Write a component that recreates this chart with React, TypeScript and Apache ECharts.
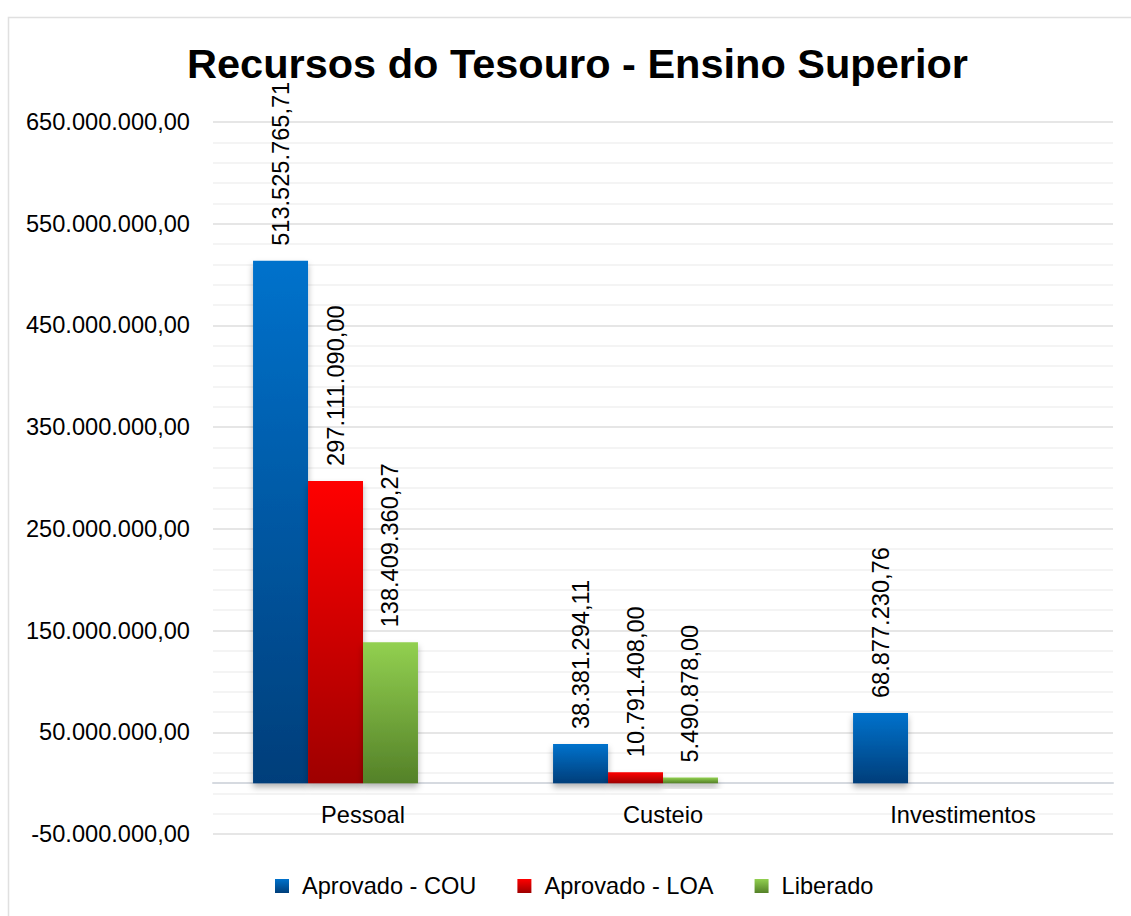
import React, { useEffect, useRef } from "react";
import * as echarts from "echarts";

const categories = ["Pessoal", "Custeio", "Investimentos"];
const seriesNames = ["Aprovado - COU", "Aprovado - LOA", "Liberado"];
const aprovadoCOU = [513525765.71, 38381294.11, 68877230.76];
const aprovadoLOA = [297111090.0, 10791408.0, null];
const liberado = [138409360.27, 5490878.0, null];
// empty fourth series slot present in the original chart (reserves space)
const emptySlot = [null, null, null];
const yMin = -50000000;
const yMax = 650000000;
const yInterval = 100000000;

const fmt = (v: number) => {
  const neg = v < 0;
  const abs = Math.abs(v);
  const [intPart, dec] = abs.toFixed(2).split(".");
  const withDots = intPart.replace(/\B(?=(\d{3})+(?!\d))/g, ".");
  return (neg ? "-" : "") + withDots + "," + dec;
};

const grad = (top: string, bottom: string) =>
  new echarts.graphic.LinearGradient(0, 0, 0, 1, [
    { offset: 0, color: top },
    { offset: 1, color: bottom },
  ]);

export default function App() {
  const ref = useRef<HTMLDivElement>(null);
  useEffect(() => {
    document.body.style.margin = "0";
    const chart = echarts.init(ref.current!, null, { renderer: "svg" });
    const font = "Liberation Sans, Arial, sans-serif";
    const fs = 23.6;
    const colors = [
      grad("#0072CC", "#003E7A"),
      grad("#FF0000", "#9E0000"),
      grad("#92D050", "#548128"),
    ];
    const datas = [aprovadoCOU, aprovadoLOA, liberado];
    const mainSeries = seriesNames.map((name, i) => ({
      name,
      type: "bar",
      data: datas[i],
      barGap: "0%",
      barCategoryGap: "26.7%",
      itemStyle: {
        color: colors[i],
        shadowColor: "rgba(0,0,0,0.3)",
        shadowBlur: 6,
        shadowOffsetY: 4,
      },
      label: {
        show: true,
        position: "top",
        rotate: 90,
        align: "left",
        verticalAlign: "middle",
        distance: 15,
        fontSize: fs,
        color: "#000",
        fontFamily: font,
        formatter: (p: any) => (p.value == null ? "" : fmt(p.value)),
      },
    }));
    chart.setOption({
      animation: false,
      backgroundColor: "#ffffff",
      textStyle: { fontFamily: font },
      title: {
        text: "Recursos do Tesouro - Ensino Superior",
        left: 182,
        top: 37,
        textStyle: { fontSize: 41.5, fontWeight: "bold", color: "#000", fontFamily: font },
      },
      graphic: [
        {
          type: "rect",
          shape: { x: 8.5, y: 17.5, width: 1140, height: 920 },
          style: { fill: "none", stroke: "#e0e0e0", lineWidth: 1.5 },
          silent: true,
        },
      ],
      legend: {
        bottom: 13,
        left: 270,
        itemWidth: 14,
        itemHeight: 14,
        itemGap: 41,
        icon: "rect",
        textStyle: { fontSize: fs, color: "#000", fontFamily: font, padding: [0, 0, 0, 8] },
        data: seriesNames,
      },
      grid: { left: 213, right: 18, top: 122, bottom: 82, containLabel: false },
      xAxis: {
        type: "category",
        data: categories,
        axisLine: { show: true, onZero: true, lineStyle: { color: "#d6dae0", width: 2 } },
        axisTick: { show: false },
        axisLabel: { fontSize: fs, color: "#000", margin: -31, fontFamily: font },
        splitLine: { show: false },
      },
      yAxis: {
        type: "value",
        min: yMin,
        max: yMax,
        interval: yInterval,
        axisLine: { show: false },
        axisTick: { show: false },
        axisLabel: {
          fontSize: fs,
          color: "#000",
          margin: 23,
          fontFamily: font,
          formatter: (v: number) => fmt(v),
        },
        splitLine: { show: true, lineStyle: { color: "#dedede", width: 1.5 } },
        minorTick: { show: false, splitNumber: 5 },
        minorSplitLine: { show: true, lineStyle: { color: "#f0f0f0", width: 1.5 } },
      },
      series: [
        ...mainSeries,
        {
          name: "",
          type: "bar",
          data: emptySlot,
          barGap: "0%",
          barCategoryGap: "26.7%",
          silent: true,
        },
      ],
    });
    return () => chart.dispose();
  }, []);
  return <div ref={ref} style={{ width: 1131, height: 916 }} />;
}
